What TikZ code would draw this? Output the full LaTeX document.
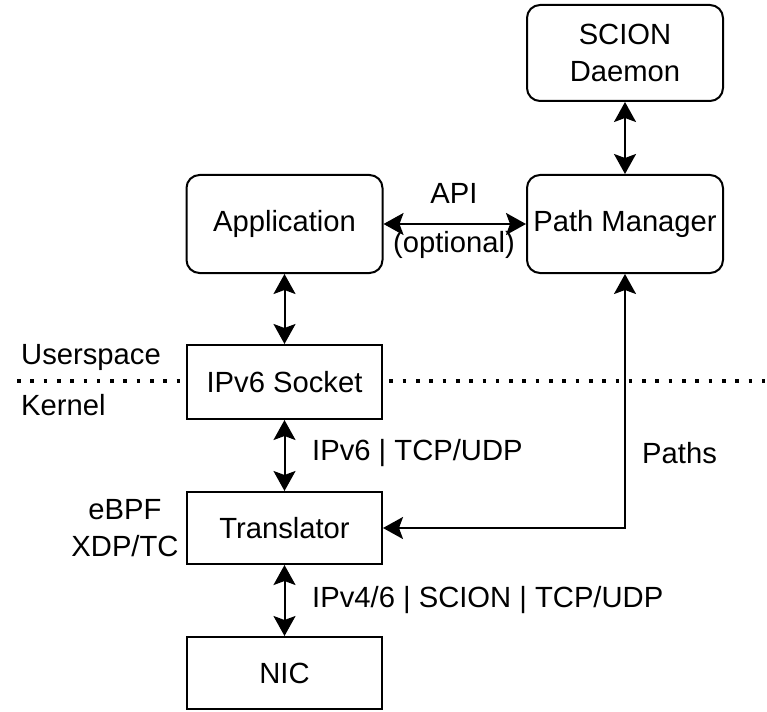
\documentclass[tikz,border=0pt]{standalone}
\usepackage{fontspec}
\setmainfont{Liberation Sans}
\usetikzlibrary{arrows.meta}
\begin{document}
\begin{tikzpicture}[x=1pt,y=-1pt,
  every node/.style={font=\fontsize{29.2}{36.5}\selectfont, inner sep=0pt},
  roundbox/.style={draw, line width=2pt, rounded corners=13pt, fill=white,
    minimum width=196pt, align=center},
  flatbox/.style={draw, line width=2pt, fill=white, minimum width=195pt, align=center},
  link/.style={line width=2pt,
    {Stealth[length=20pt,width=22pt,inset=4pt]}-{Stealth[length=20pt,width=22pt,inset=4pt]}},
  lbl/.style={align=center}
]
\useasboundingbox (0,0) rectangle (767,711);

% userspace / kernel boundary
\draw[line width=3.6pt, dash pattern=on 3.6pt off 9.7pt] (17,381) -- (767,381);

% components
\node[roundbox, minimum height=96pt] (daemon) at (625,53) {SCION\\Daemon};
\node[roundbox, minimum height=98pt] (app) at (284.5,224) {Application};
\node[roundbox, minimum height=98pt] (pm) at (625,224) {Path Manager};
\node[flatbox, minimum height=74pt] (sock) at (284.5,382) {IPv6 Socket};
\node[flatbox, minimum height=72pt] (trans) at (284.5,528) {Translator};
\node[flatbox, minimum height=72pt] (nic) at (284.5,673) {NIC};

% side labels
\node[anchor=west] (us) at (21,357) {Userspace};
\node[anchor=west] (kern) at (21,405) {Kernel};
\node[lbl] (ebpf) at (125,528) {eBPF\\XDP/TC};

% connections
\draw[link] (daemon) -- (pm);
\draw[link] (app) -- (pm);
\draw[link] (app) -- (sock);
\draw[link] (sock) -- (trans);
\draw[link] (trans) -- (nic);
\draw[link] (pm.south) |- (trans.east);

% connection labels
\node (api) at (454,193) {API};
\node (opt) at (454,245) {(optional)};
\node[anchor=west] (l6) at (312,453) {IPv6 | TCP/UDP};
\node[anchor=west] (paths) at (642,453) {Paths};
\node[anchor=west] (l4) at (312,600) {IPv4/6 | SCION | TCP/UDP};
\end{tikzpicture}
\end{document}
